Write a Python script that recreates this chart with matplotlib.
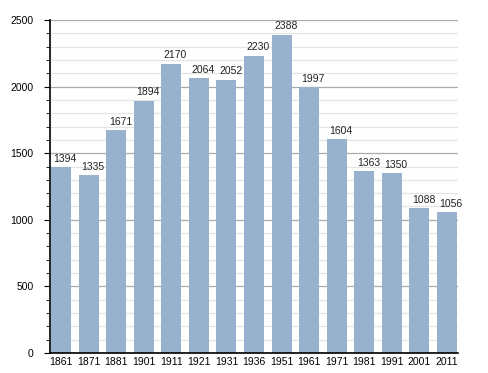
import matplotlib.pyplot as plt
from matplotlib.ticker import MultipleLocator

# Population by census year
years = ['1861', '1871', '1881', '1901', '1911', '1921', '1931', '1936',
         '1951', '1961', '1971', '1981', '1991', '2001', '2011']
population = [1394, 1335, 1671, 1894, 2170, 2064, 2052, 2230,
              2388, 1997, 1604, 1363, 1350, 1088, 1056]

fig = plt.figure(figsize=(4.88, 3.73), dpi=100)
ax = fig.add_axes([0.1025, 0.0536, 0.836, 0.8928])

x = list(range(len(years)))
ax.bar(x, population, width=0.725, color='#98b2cd', zorder=2)

# Value labels above each bar
for xi, v in zip(x, population):
    ax.annotate(str(v), (xi, v), xytext=(3, 2.5), textcoords='offset points',
                ha='center', va='bottom', fontsize=7.5, color='#222222',
                family='Liberation Sans')

ax.set_xlim(-0.4, 14.4)
ax.set_ylim(0, 2500)
ax.set_xticks(x)
ax.set_xticklabels(years)
ax.yaxis.set_major_locator(MultipleLocator(500))
ax.yaxis.set_minor_locator(MultipleLocator(100))

# Grid: darker lines every 500, light ones every 100
ax.grid(axis='y', which='major', color='#aaaaaa', linewidth=0.9, zorder=0)
ax.grid(axis='y', which='minor', color='#e4e4e4', linewidth=0.9, zorder=0)
ax.set_axisbelow(True)

for side in ['top', 'right']:
    ax.spines[side].set_visible(False)
ax.spines['left'].set_linewidth(1.2)
ax.spines['bottom'].set_linewidth(1.2)
ax.tick_params(axis='y', which='major', length=4, direction='out',
               labelsize=7.5, pad=8)
ax.tick_params(axis='y', which='minor', length=3, direction='out')
ax.tick_params(axis='x', length=0, labelsize=7.5, pad=3)
for lbl in ax.get_xticklabels() + ax.get_yticklabels():
    lbl.set_family('Liberation Sans')

fig.savefig('out.png', dpi=100)
